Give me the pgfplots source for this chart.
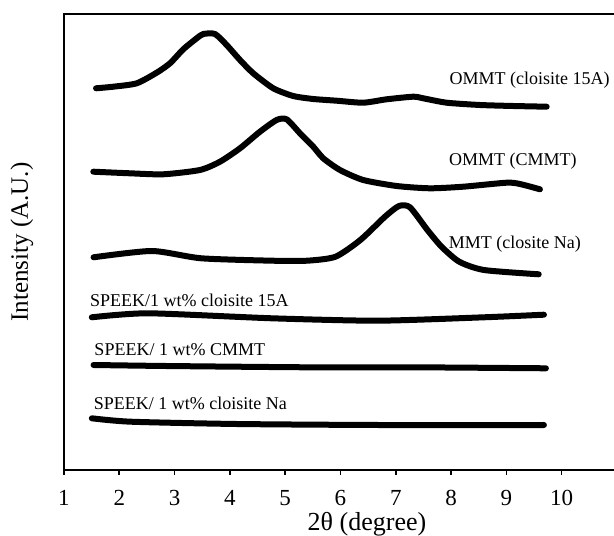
\documentclass[border=0pt]{standalone}
\usepackage{fontspec}
\setmainfont{Liberation Serif}
\usepackage{pgfplots}
\pgfplotsset{compat=1.18}

\begin{document}
\begin{tikzpicture}[
  curvelabel/.style={anchor=base west, font=\fontsize{18}{18}\selectfont, inner sep=0pt},
  curve/.style={black, line width=6pt, line cap=round, line join=round, smooth, tension=0.4, mark=none},
]
\begin{axis}[
  name=ax,
  scale only axis,
  width=606pt, height=456pt,
  xmin=1, xmax=11.96, ymin=0, ymax=456,
  axis line style={line width=1.6pt},
  xtick={1,...,10}, ytick=\empty,
  xtick pos=left, tick align=outside,
  major tick length=5pt,
  every tick/.style={black, line width=1.6pt},
  /pgf/number format/assume math mode=true,
  xticklabel style={font=\fontsize{23}{23}\selectfont, anchor=base, yshift=-30pt},
  xlabel={2θ (degree)},
  every axis x label/.style={at={(axis description cs:0.5,0)}, anchor=base, yshift=-60pt, font=\fontsize{26}{26}\selectfont},
  ylabel={Intensity (A.U.)},
  every axis y label/.style={at={(axis description cs:-0.0693,0.5)}, anchor=center, rotate=90, font=\fontsize{25}{25}\selectfont},
  clip=false,
]
% OMMT (cloisite 15A)
\addplot[curve] coordinates {(1.579,381.7) (1.892,383.3) (2.315,386.7) (2.676,397.3) (2.917,406.7) (3.157,420.7) (3.400,431.7) (3.519,436) (3.731,436) (3.942,425) (4.183,410) (4.423,396.7) (4.785,381.7) (5.146,374) (5.508,371) (5.931,369.3) (6.412,367.3) (6.835,370.7) (7.316,373.3) (7.497,371.7) (7.920,367.3) (8.523,365) (9.125,364) (9.729,363.3)};
% OMMT (CMMT)
\addplot[curve] coordinates {(1.530,298.3) (2.193,296.7) (2.796,295.7) (3.459,300) (3.821,308.3) (4.183,321.7) (4.544,338.3) (4.846,350) (5.027,350.7) (5.268,336.7) (5.508,323.3) (5.689,311.7) (5.991,300) (6.412,290) (7.016,284) (7.618,281.7) (8.221,283.3) (9.005,287.3) (9.246,286) (9.608,280.7)};
% MMT (closite Na)
\addplot[curve] coordinates {(1.535,212.7) (2.590,219) (3.483,211.7) (4.761,209.3) (5.400,209.3) (5.911,213.3) (6.360,230) (6.805,253.3) (7.058,264) (7.257,262.7) (7.573,240) (7.828,223.3) (8.148,208.3) (8.595,200) (9.586,195.7)};
% SPEEK/1 wt% cloisite 15A
\addplot[curve] coordinates {(1.503,152.7) (2.524,156.7) (4.761,151.7) (6.678,149.3) (8.595,152.7) (9.680,155.3)};
% SPEEK/1 wt% CMMT
\addplot[curve] coordinates {(1.535,105) (2.844,104) (5.400,102.7) (7.318,102.7) (9.716,101.7)};
% SPEEK/1 wt% cloisite Na
\addplot[curve] coordinates {(1.503,51.7) (2.206,48.3) (4.123,46) (6.678,45) (9.680,45)};

\node[curvelabel] at (axis cs:7.969,385) {OMMT (cloisite 15A)};
\node[curvelabel] at (axis cs:7.962,304.5) {OMMT (CMMT)};
\node[curvelabel] at (axis cs:7.957,221.7) {MMT (closite Na)};
\node[curvelabel] at (axis cs:1.470,163.3) {SPEEK/1 wt\% cloisite 15A};
\node[curvelabel] at (axis cs:1.548,114) {SPEEK/ 1 wt\% CMMT};
\node[curvelabel] at (axis cs:1.535,60.7) {SPEEK/ 1 wt\% cloisite Na};
\end{axis}
\pgfresetboundingbox
\path[use as bounding box] ([xshift=-64pt,yshift=-66pt]ax.south west) rectangle ([xshift=550pt,yshift=14pt]ax.north west);
\end{tikzpicture}
\end{document}
